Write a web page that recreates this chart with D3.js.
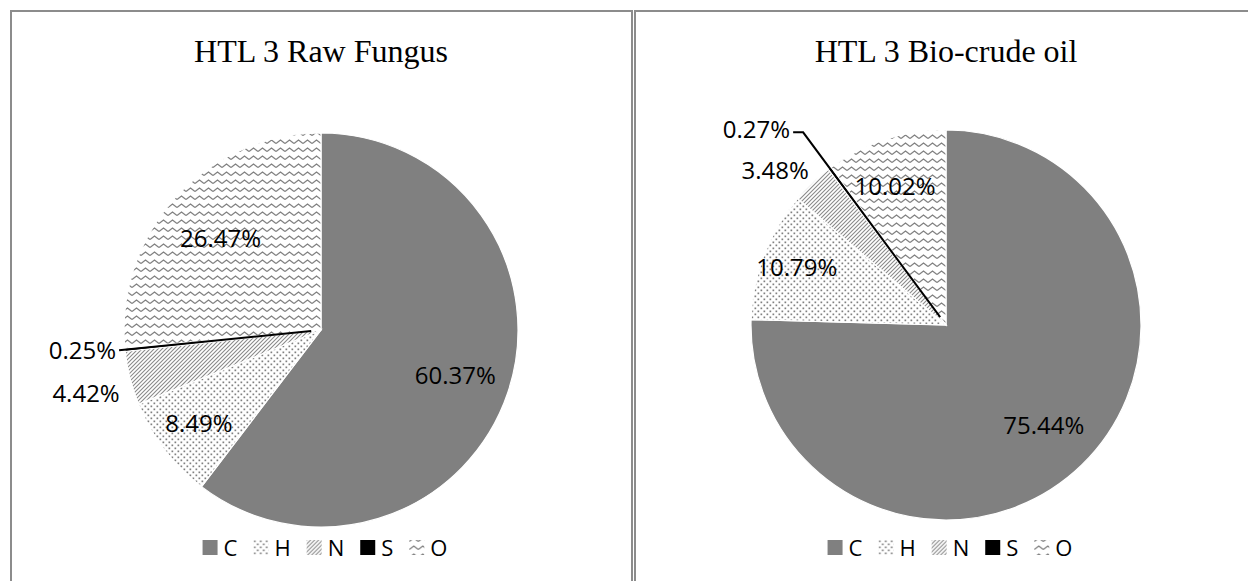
<!DOCTYPE html>
<html lang="en">
<head>
    <meta charset="UTF-8">
    <title>HTL 3 elemental composition</title>
    <script src="https://d3js.org/d3.v7.min.js"></script>
    <style>
        body { margin: 0; background: #fff; }
    </style>
</head>
<body>
    <script>
        // data
        const categories = ["C", "H", "N", "S", "O"];
        const rawFungus = [60.37, 8.49, 4.42, 0.25, 26.47];
        const bioCrude = [75.44, 10.79, 3.48, 0.27, 10.02];
        const titles = ["HTL 3 Raw Fungus", "HTL 3 Bio-crude oil"];

        const width = 1248, height = 581;
        const svg = d3.select("body").append("svg")
            .attr("width", width)
            .attr("height", height);

        // fill patterns, one per element
        const defs = svg.append("defs");

        const dots = defs.append("pattern").attr("id", "pat-H")
            .attr("patternUnits", "userSpaceOnUse")
            .attr("width", 6).attr("height", 6);
        dots.append("rect").attr("width", 6).attr("height", 6).attr("fill", "#fff");
        dots.append("rect").attr("x", 0.5).attr("y", 0.5).attr("width", 1.7).attr("height", 1.7).attr("fill", "#808080");
        dots.append("rect").attr("x", 3.5).attr("y", 3.5).attr("width", 1.7).attr("height", 1.7).attr("fill", "#808080");

        const diag = defs.append("pattern").attr("id", "pat-N")
            .attr("patternUnits", "userSpaceOnUse")
            .attr("width", 4).attr("height", 4);
        diag.append("rect").attr("width", 4).attr("height", 4).attr("fill", "#fff");
        diag.append("path").attr("d", "M-1,1 L1,-1 M0,4 L4,0 M3,5 L5,3")
            .attr("stroke", "#8a8a8a").attr("stroke-width", 1.1);

        const zig = defs.append("pattern").attr("id", "pat-O")
            .attr("patternUnits", "userSpaceOnUse")
            .attr("width", 9).attr("height", 8);
        zig.append("rect").attr("width", 9).attr("height", 8).attr("fill", "#fff");
        zig.append("path").attr("d", "M0,5.5 L4.5,2 L9,5.5")
            .attr("fill", "none").attr("stroke", "#808080").attr("stroke-width", 1.3);

        const fills = {C: "#808080", H: "url(#pat-H)", N: "url(#pat-N)", S: "#000", O: "url(#pat-O)"};

        // panel frames
        svg.append("rect").attr("x", 11).attr("y", 11).attr("width", 621).attr("height", 600)
            .attr("fill", "none").attr("stroke", "#8c8c8c").attr("stroke-width", 2);
        svg.append("rect").attr("x", 635).attr("y", 11).attr("width", 640).attr("height", 600)
            .attr("fill", "none").attr("stroke", "#8c8c8c").attr("stroke-width", 2);

        // label radius as a share of r, plus small pixel nudges like Excel does
        const panels = [
            {values: rawFungus, title: titles[0], cx: 321, cy: 330, r: 197,
             labelFrac: [0.72, 0.78, 1.23, 0, 0.69],
             nudge: [[0, 0], [0, 0], [0, 4], [0, 0], [0, 0]],
             leaderFrac: 1.03, leaderTail: 0},
            {values: bioCrude, title: titles[1], cx: 946, cy: 325, r: 195,
             labelFrac: [0.72, 0.82, 1.18, 0, 0.76],
             nudge: [[0, 0], [0, 0], [-13, 13], [0, -3], [-5, 3]],
             leaderFrac: 1.23, leaderTail: 10}
        ];

        const pie = d3.pie().sort(null).value(d => d);

        panels.forEach(p => {
            const g = svg.append("g").attr("transform", `translate(${p.cx},${p.cy})`);
            const arc = d3.arc().innerRadius(0).outerRadius(p.r);
            const arcs = pie(p.values);

            // title
            svg.append("text")
                .attr("x", p.cx).attr("y", 62)
                .attr("text-anchor", "middle")
                .style("font-family", "'Liberation Serif', 'Times New Roman', serif")
                .style("font-size", "32px")
                .text(p.title);

            g.selectAll("path.slice")
                .data(arcs)
                .join("path")
                .attr("class", "slice")
                .attr("d", arc)
                .attr("fill", (d, i) => fills[categories[i]])
                .attr("stroke", "#fff")
                .attr("stroke-width", 1.2);

            const mid = d => (d.startAngle + d.endAngle) / 2;

            // labels, S gets a leader line
            arcs.forEach((d, i) => {
                const a = mid(d);
                const txt = d.value.toFixed(2) + "%";
                const [nx, ny] = p.nudge[i];
                if (categories[i] === "S") {
                    const r0 = p.r * 0.05, r1 = p.r * p.leaderFrac;
                    const x0 = r0 * Math.sin(a), y0 = -r0 * Math.cos(a);
                    const x1 = r1 * Math.sin(a), y1 = -r1 * Math.cos(a);
                    const x2 = x1 - p.leaderTail;
                    g.append("path")
                        .attr("d", `M${x0},${y0} L${x1},${y1} L${x2},${y1}`)
                        .attr("fill", "none").attr("stroke", "#000").attr("stroke-width", 2);
                    g.append("text")
                        .attr("x", x2 - 3 + nx).attr("y", y1 + ny)
                        .attr("dy", "0.35em")
                        .attr("text-anchor", "end")
                        .style("font-family", "'Open Sans', sans-serif")
                        .style("font-size", "24px")
                        .text(txt);
                } else {
                    const rl = p.r * p.labelFrac[i];
                    g.append("text")
                        .attr("x", rl * Math.sin(a) + nx).attr("y", -rl * Math.cos(a) + ny)
                        .attr("dy", "0.35em")
                        .attr("text-anchor", "middle")
                        .style("font-family", "'Open Sans', sans-serif")
                        .style("font-size", "24px")
                        .text(txt);
                }
            });

            // legend
            const leg = svg.append("g");
            let x = 0;
            categories.forEach(c => {
                const it = leg.append("g").attr("transform", `translate(${x},0)`);
                it.append("rect").attr("x", 0).attr("y", 540).attr("width", 15).attr("height", 15)
                    .attr("fill", fills[c]);
                const t = it.append("text").attr("x", 21).attr("y", 556)
                    .style("font-family", "'Open Sans', sans-serif")
                    .style("font-size", "22px")
                    .text(c);
                x += 21 + t.node().getComputedTextLength() + 16;
            });
            const lw = x - 16;
            leg.attr("transform", `translate(${p.cx - lw / 2 + 4},0)`);
        });
    </script>
</body>
</html>
